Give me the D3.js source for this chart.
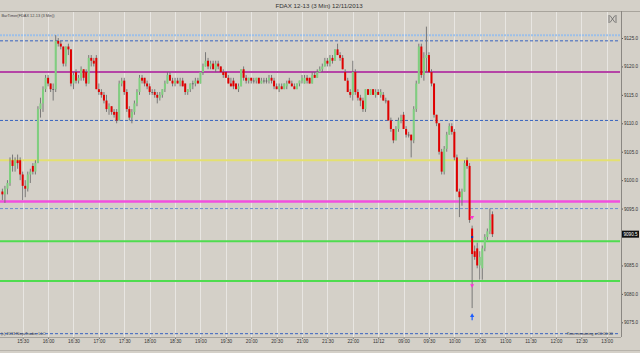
<!DOCTYPE html>
<html>
<head>
<meta charset="utf-8">
<script src="https://cdn.jsdelivr.net/npm/d3@7"></script>
<style>
body { margin: 0; background: #d4d0c8; }
svg { display: block; font-family: "Liberation Sans", Arial, sans-serif; }
</style>
</head>
<body>
<svg width="640" height="353"></svg>
<script>
// 3 min bars, [open, high, low, close]
const bars = [
	[9098.0,9098.5,9096.5,9097.5],[9097.5,9099.0,9096.0,9098.5],[9098.5,9100.0,9097.5,9099.5],[9099.5,9104.0,9099.0,9103.0],
	[9103.5,9104.5,9101.5,9102.5],[9102.5,9104.0,9101.5,9103.5],[9103.5,9104.5,9102.0,9103.0],[9103.5,9104.0,9100.0,9101.0],
	[9101.0,9101.5,9096.5,9099.0],[9099.0,9100.0,9097.0,9098.5],[9098.5,9101.5,9098.0,9101.0],[9101.0,9102.0,9099.5,9101.5],
	[9102.5,9103.0,9101.0,9101.5],[9101.5,9103.5,9101.0,9103.0],[9103.0,9113.0,9103.0,9112.5],[9112.5,9114.5,9111.0,9113.5],
	[9113.5,9116.5,9112.0,9116.0],[9116.0,9118.5,9115.5,9118.0],[9118.0,9118.5,9116.5,9117.0],[9117.0,9117.0,9115.5,9116.0],
	[9116.0,9117.0,9114.0,9116.0],[9116.0,9125.5,9115.5,9124.5],[9124.5,9125.0,9123.5,9124.0],[9124.0,9124.5,9123.0,9123.5],
	[9123.5,9123.5,9120.0,9120.5],[9120.5,9123.5,9120.0,9123.5],[9123.5,9124.0,9122.0,9123.0],[9123.0,9123.0,9116.5,9117.0],
	[9117.0,9119.0,9116.0,9118.5],[9119.0,9119.5,9117.0,9117.5],[9117.5,9118.5,9117.0,9118.0],[9118.0,9120.0,9117.5,9119.5],
	[9119.5,9119.5,9117.5,9118.0],[9119.0,9119.5,9116.5,9117.0],[9117.0,9122.0,9117.0,9121.5],[9121.5,9122.0,9120.0,9121.0],
	[9121.0,9121.5,9120.0,9120.5],[9121.5,9122.0,9116.0,9116.0],[9116.0,9117.0,9115.0,9115.5],[9115.5,9116.0,9114.5,9115.0],
	[9115.0,9115.5,9113.5,9114.0],[9114.0,9115.0,9112.0,9112.5],[9112.5,9113.5,9111.5,9113.0],[9113.0,9113.0,9111.5,9112.0],
	[9112.0,9112.5,9111.0,9111.5],[9112.0,9112.5,9110.0,9110.5],[9110.5,9117.5,9110.5,9117.0],[9117.0,9118.0,9116.5,9117.5],
	[9117.5,9118.0,9115.0,9115.5],[9115.5,9116.0,9112.0,9112.5],[9112.5,9113.0,9110.5,9111.0],[9111.0,9112.5,9110.0,9112.0],
	[9112.0,9114.0,9111.5,9113.5],[9113.5,9116.0,9113.0,9115.5],[9115.5,9118.5,9115.0,9118.0],[9118.0,9118.5,9117.0,9117.5],
	[9118.0,9118.0,9116.5,9117.0],[9117.0,9117.5,9116.0,9116.5],[9116.5,9117.0,9115.0,9115.5],[9115.5,9116.0,9115.0,9115.5],
	[9115.5,9116.0,9114.5,9115.0],[9115.0,9115.5,9113.5,9114.5],[9114.5,9115.5,9114.0,9115.0],[9115.0,9116.0,9114.5,9116.0],
	[9116.0,9117.5,9115.5,9117.0],[9117.0,9119.0,9117.0,9118.5],[9118.5,9119.0,9117.5,9117.5],[9117.5,9118.0,9116.5,9117.0],
	[9117.0,9118.0,9116.5,9117.5],[9117.5,9118.0,9117.0,9117.0],[9117.0,9118.0,9116.5,9117.5],[9117.5,9118.0,9116.5,9116.5],
	[9117.0,9117.0,9115.0,9115.5],[9115.5,9116.0,9115.0,9116.0],[9116.0,9117.0,9115.5,9117.0],[9117.0,9117.5,9116.0,9117.0],
	[9117.0,9118.0,9116.5,9117.5],[9117.5,9118.0,9117.0,9117.0],[9117.0,9119.0,9117.0,9119.0],[9119.0,9120.5,9118.5,9120.0],
	[9120.0,9122.5,9120.0,9121.0],[9121.0,9121.5,9119.5,9120.0],[9120.0,9121.0,9119.5,9120.5],[9120.5,9121.0,9119.5,9119.5],
	[9119.5,9121.0,9119.0,9120.5],[9120.5,9121.0,9119.5,9120.0],[9120.0,9120.0,9119.0,9119.0],[9119.0,9119.5,9118.0,9118.5],
	[9119.0,9119.0,9118.0,9118.0],[9118.0,9118.5,9117.0,9117.0],[9117.0,9118.0,9116.5,9116.5],[9117.5,9118.0,9116.0,9116.5],
	[9117.0,9117.0,9116.0,9116.0],[9116.0,9117.0,9115.5,9116.5],[9116.5,9119.5,9116.5,9119.5],[9119.5,9120.0,9117.5,9118.0],
	[9118.0,9118.5,9117.0,9117.5],[9117.5,9118.0,9117.0,9118.0],[9118.0,9118.0,9117.0,9117.5],[9117.5,9118.0,9117.0,9117.5],
	[9117.5,9118.0,9117.0,9118.0],[9118.0,9118.0,9117.0,9117.0],[9117.0,9118.0,9117.0,9117.5],[9117.5,9118.0,9117.0,9117.5],
	[9117.5,9118.0,9117.0,9117.5],[9117.5,9118.5,9117.0,9118.0],[9118.0,9118.5,9117.0,9117.5],[9117.5,9118.0,9116.0,9116.5],
	[9116.5,9117.0,9116.0,9116.0],[9116.0,9117.0,9115.5,9116.5],[9116.5,9117.0,9116.0,9116.0],[9116.0,9117.0,9116.0,9117.0],
	[9116.5,9117.5,9116.0,9117.0],[9117.5,9118.0,9117.0,9117.0],[9117.0,9117.5,9116.5,9116.5],[9116.5,9117.0,9116.0,9116.0],
	[9116.0,9117.0,9116.0,9117.0],[9117.0,9117.5,9116.5,9117.5],[9117.5,9118.5,9117.0,9118.0],[9117.0,9118.5,9117.0,9118.0],
	[9118.0,9118.5,9117.0,9117.5],[9118.0,9118.0,9117.0,9117.0],[9117.0,9119.0,9117.0,9118.5],[9118.5,9119.0,9118.0,9118.0],
	[9118.0,9119.5,9118.0,9119.0],[9119.0,9120.0,9119.0,9119.5],[9119.5,9120.5,9119.0,9120.0],[9120.0,9121.5,9120.0,9121.0],
	[9121.0,9121.5,9120.0,9120.5],[9120.5,9122.0,9120.0,9121.5],[9121.5,9122.0,9120.5,9121.0],[9121.0,9123.0,9121.0,9123.0],
	[9123.0,9124.0,9122.0,9122.0],[9122.0,9122.5,9121.0,9121.5],[9121.5,9122.0,9119.5,9119.5],[9119.0,9119.5,9117.5,9117.5],
	[9117.5,9118.0,9115.5,9115.5],[9115.5,9116.0,9114.5,9115.0],[9115.0,9121.0,9114.0,9119.0],[9119.0,9119.5,9115.0,9115.5],
	[9115.5,9116.0,9114.0,9114.5],[9114.5,9115.0,9113.0,9114.0],[9114.0,9114.5,9112.0,9112.5],[9112.5,9116.0,9112.0,9116.0],
	[9116.0,9116.0,9115.0,9115.0],[9115.0,9116.0,9115.0,9116.0],[9116.0,9116.0,9115.0,9115.0],[9115.0,9116.0,9114.5,9115.5],
	[9115.5,9116.0,9115.0,9115.0],[9115.0,9116.0,9114.5,9115.5],[9115.0,9115.5,9114.0,9114.0],[9114.0,9114.5,9113.5,9114.0],
	[9114.0,9114.0,9110.5,9110.5],[9110.5,9111.0,9108.5,9109.0],[9109.0,9109.0,9106.5,9107.0],[9107.0,9109.5,9107.0,9109.0],
	[9109.0,9111.0,9108.5,9110.5],[9110.5,9111.5,9110.0,9111.0],[9111.5,9112.0,9109.0,9109.0],[9109.0,9109.5,9107.5,9108.0],
	[9108.0,9108.5,9107.5,9108.0],[9108.0,9108.0,9104.0,9107.0],[9107.0,9113.0,9106.5,9112.5],[9112.5,9117.5,9112.0,9117.0],
	[9117.0,9124.0,9117.0,9123.5],[9123.5,9124.0,9118.0,9118.5],[9118.5,9122.5,9117.5,9121.5],[9121.5,9127.0,9119.0,9122.0],
	[9122.0,9122.5,9119.0,9119.0],[9119.0,9119.5,9116.5,9117.0],[9117.0,9117.0,9111.0,9111.5],[9111.5,9111.5,9109.5,9110.0],
	[9110.0,9110.0,9104.5,9105.0],[9105.0,9105.5,9101.0,9101.5],[9101.5,9106.0,9101.0,9105.5],[9105.5,9108.5,9105.0,9108.0],
	[9108.0,9110.0,9108.0,9109.5],[9109.5,9110.0,9108.0,9108.5],[9108.5,9109.0,9103.5,9104.0],[9104.0,9104.5,9098.0,9098.0],
	[9098.0,9098.5,9093.5,9097.0],[9096.5,9098.5,9095.5,9098.0],[9098.0,9103.5,9098.0,9103.0],[9103.5,9104.0,9102.0,9102.5],
	[9102.5,9103.0,9092.5,9093.0],[9091.5,9092.0,9077.5,9087.0],[9087.5,9088.5,9086.0,9086.5],[9088.0,9089.0,9084.5,9085.0],
	[9085.0,9087.5,9082.5,9086.5],[9084.5,9088.5,9082.5,9088.0],[9088.0,9090.5,9087.5,9090.0],[9090.0,9091.5,9089.5,9091.0],
	[9091.0,9095.0,9090.5,9093.0],[9094.0,9094.5,9090.0,9090.5]
];

// horizontal levels drawn across the chart
const levels = [9125.5, 9124.5, 9119.0, 9110.5, 9103.5, 9096.25, 9095.0, 9089.25, 9082.25, 9073.0];

// x axis: bar index of each label
const timeTickBars = [8,18,28,38,48,58,68,78,88,98,108,118,128,138,148,158,168,178,188,198,208,218,228,238];
const timeLabels = ["15:30","16:00","16:30","17:00","17:30","18:00","18:30","19:00","19:30","20:00","20:30","21:00",
	"21:30","22:00","11/12","09:00","09:30","10:00","10:30","11:00","11:30","12:00","12:30","13:00"];
// 9090.0 sits under the last price tag
const priceTicks = [9075, 9080, 9085, 9095, 9100, 9105, 9110, 9115, 9120, 9125];

// signal marks near the sell-off bar: [bar, price]
const sellMarks = [[185, 9093.5], [185, 9081.5]];
const buyArrow = [185, 9076.5];
const entryDot = [185, 9090.0];
const lastPrice = 9090.5;

const svg = d3.select("svg");
const plotRight = 621, plotTop = 11, plotBottom = 337;

const x = d3.scaleLinear().domain([8, 238]).range([22.7, 606.7]);
const y = d3.scaleLinear().domain([9075, 9125]).range([322.3, 38]);

// title bar
svg.append("line").attr("x1", 0).attr("x2", 640).attr("y1", plotTop + 0.5).attr("y2", plotTop + 0.5)
	.attr("stroke", "#a8a49c");
svg.append("text").attr("x", 319).attr("y", 8).attr("text-anchor", "middle")
	.attr("font-size", 6.2).attr("fill", "#333").text("FDAX 12-13 (3 Min)  12/11/2013");

// vertical grid
svg.append("g").selectAll("line").data(timeTickBars).enter().append("line")
	.attr("x1", (d) => Math.round(x(d)) + 0.5).attr("x2", (d) => Math.round(x(d)) + 0.5)
	.attr("y1", plotTop + 1).attr("y2", plotBottom)
	.attr("stroke", "#e8e6e2").attr("stroke-width", 1);

// level lines
const levelStyle = [
	{ c: "#9cbfe8", w: 2, d: "2,1" },
	{ c: "#3763c0", w: 1, d: "3,2" },
	{ c: "#b544a6", w: 2, d: null },
	{ c: "#3763c0", w: 1, d: "3,2" },
	{ c: "#e4e070", w: 2, d: null },
	{ c: "#f24ede", w: 2.5, d: null },
	{ c: "#6a8fd2", w: 1, d: "3,2" },
	{ c: "#4fdc4f", w: 2, d: null },
	{ c: "#4fdc4f", w: 2, d: null },
	{ c: "#3763c0", w: 1, d: "3,2" }
];
svg.append("g").selectAll("line").data(levels).enter().append("line")
	.attr("x1", 0).attr("x2", plotRight - 1)
	.attr("y1", (d) => y(d)).attr("y2", (d) => y(d))
	.attr("stroke", (d, i) => levelStyle[i].c)
	.attr("stroke-width", (d, i) => levelStyle[i].w)
	.attr("stroke-dasharray", (d, i) => levelStyle[i].d);

// candles
const g = svg.append("g");
g.selectAll(".wick").data(bars).enter().append("line")
	.attr("class", "wick")
	.attr("x1", (d, i) => x(i)).attr("x2", (d, i) => x(i))
	.attr("y1", (d) => y(d[1])).attr("y2", (d) => y(d[2]))
	.attr("stroke", "#6e6e6e").attr("stroke-width", 0.9);
g.selectAll(".body").data(bars).enter().append("rect")
	.attr("class", "body")
	.attr("x", (d, i) => x(i) - 1)
	.attr("width", 2)
	.attr("y", (d) => y(Math.max(d[0], d[3])))
	.attr("height", (d) => Math.max(0.7, Math.abs(y(d[0]) - y(d[3]))))
	.attr("fill", (d) => d[3] > d[0] ? "#7fcf7f" : d[3] < d[0] ? "#e00000" : "#555");

// marks
svg.append("g").selectAll("path").data(sellMarks).enter().append("path")
	.attr("d", d3.symbol(d3.symbolTriangle, 7))
	.attr("transform", (d) => `translate(${x(d[0])},${y(d[1])}) rotate(180)`)
	.attr("fill", "#ff30d8");
svg.append("rect").attr("x", x(entryDot[0]) - 1).attr("y", y(entryDot[1]) - 1).attr("width", 2).attr("height", 2)
	.attr("fill", "#1030b0");
svg.append("path").attr("d", d3.symbol(d3.symbolTriangle, 8))
	.attr("transform", `translate(${x(buyArrow[0])},${y(buyArrow[1]) + 2})`).attr("fill", "#1a5cff");
svg.append("line").attr("x1", x(buyArrow[0])).attr("x2", x(buyArrow[0]))
	.attr("y1", y(buyArrow[1]) + 3).attr("y2", y(buyArrow[1]) + 6.5).attr("stroke", "#1a5cff").attr("stroke-width", 1.2);

// right price axis
const yAxis = svg.append("g").attr("transform", `translate(${plotRight},0)`)
	.call(d3.axisRight(y).tickValues(priceTicks).tickFormat(d3.format(".1f")).tickSize(2).tickPadding(1));
yAxis.select(".domain").remove();
yAxis.selectAll("line").attr("stroke", "#555");
yAxis.selectAll("text").attr("font-size", 4.6).attr("fill", "#333").attr("font-family", "Liberation Sans, Arial");
svg.append("line").attr("x1", plotRight + 0.5).attr("x2", plotRight + 0.5).attr("y1", plotTop).attr("y2", plotBottom)
	.attr("stroke", "#8a8782");

// time axis
const xAxis = svg.append("g").attr("transform", `translate(0,${plotBottom})`)
	.call(d3.axisBottom(x).tickValues(timeTickBars).tickFormat((d, i) => timeLabels[i]).tickSize(2).tickPadding(1));
xAxis.select(".domain").remove();
xAxis.selectAll("line").attr("stroke", "#777");
xAxis.selectAll("text").attr("font-size", 4.7).attr("fill", "#333").attr("font-family", "Liberation Sans, Arial");
svg.append("line").attr("x1", 0).attr("x2", plotRight).attr("y1", plotBottom + 0.5).attr("y2", plotBottom + 0.5)
	.attr("stroke", "#a8a49c");
svg.append("line").attr("x1", 0).attr("x2", 640).attr("y1", 350.5).attr("y2", 350.5).attr("stroke", "#b8b4ac");

// last price tag
svg.append("rect").attr("x", plotRight + 1).attr("y", y(lastPrice) - 3.5).attr("width", 17).attr("height", 7).attr("fill", "#111");
svg.append("text").attr("x", plotRight + 2.5).attr("y", y(lastPrice) + 1.7).attr("font-size", 4.6).attr("fill", "#fff")
	.text(d3.format(".1f")(lastPrice));

// small texts
svg.append("text").attr("x", 1.5).attr("y", 17).attr("font-size", 3.9).attr("fill", "#444")
	.text("BarTimer(FDAX 12-13 (3 Min))");
svg.append("text").attr("x", 1).attr("y", 334.5).attr("font-size", 3.9).attr("fill", "#444")
	.text("(c) 2013 NinjaTrader, LLC");
svg.append("text").attr("x", 613).attr("y", 334.5).attr("text-anchor", "end").attr("font-size", 3.9).attr("fill", "#444")
	.text("Time remaining = 00:00:00");

// close icon
const icon = svg.append("g").attr("transform", "translate(609,15)").attr("stroke", "#666").attr("stroke-width", 0.8).attr("fill", "none");
icon.append("line").attr("x1", 0).attr("x2", 0).attr("y1", 0).attr("y2", 8);
icon.append("line").attr("x1", 7).attr("x2", 7).attr("y1", 0).attr("y2", 8);
icon.append("line").attr("x1", 1).attr("x2", 6).attr("y1", 0.5).attr("y2", 7.5);
icon.append("line").attr("x1", 6).attr("x2", 1).attr("y1", 0.5).attr("y2", 7.5);
</script>
</body>
</html>
